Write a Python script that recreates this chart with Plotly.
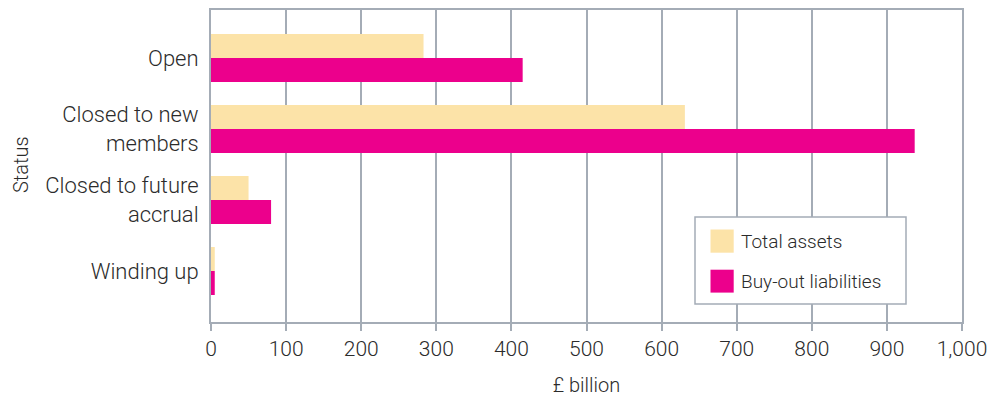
import plotly.graph_objects as go

# Pension schemes by status, £ billion
statuses = ["Open", "Closed to new<br>members", "Closed to future<br>accrual", "Winding up"]
total_assets = [283, 631, 50, 5]
buyout_liabilities = [415, 937, 80, 5]
series_names = ["Total assets", "Buy-out liabilities"]
x_ticks = [0, 100, 200, 300, 400, 500, 600, 700, 800, 900, 1000]
x_tick_labels = ["0", "100", "200", "300", "400", "500", "600", "700", "800", "900", "1,000"]

ASSET_COLOR = "#FCE3A8"
LIAB_COLOR = "#EC008C"
GRID = "#A4ACB6"
TEXT = "#2B2B2B"
FONT = "Roboto, sans-serif"
W = 300


def px_x(px):
    return (px - 211) / 751


def px_y(py):
    return (322 - py) / 312


fig = go.Figure()
fig.add_trace(go.Bar(y=statuses, x=total_assets, orientation="h", name=series_names[0],
                     marker=dict(color=ASSET_COLOR, line=dict(width=0)), showlegend=False))
fig.add_trace(go.Bar(y=statuses, x=buyout_liabilities, orientation="h", name=series_names[1],
                     marker=dict(color=LIAB_COLOR, line=dict(width=0)), showlegend=False))

# Boxed legend with large square swatches
shapes = [dict(type="rect", xref="paper", yref="paper", x0=px_x(695), x1=px_x(906),
               y0=px_y(304), y1=px_y(217),
               fillcolor="white", line=dict(color=GRID, width=1.5), layer="above")]
annotations = []
swatch_rows = [(229.5, 252.7, 241), (269.7, 292.6, 281)]
for (top, bot, mid), name, col in zip(swatch_rows, series_names, [ASSET_COLOR, LIAB_COLOR]):
    shapes.append(dict(type="rect", xref="paper", yref="paper", x0=px_x(710.5), x1=px_x(733.7),
                       y0=px_y(bot), y1=px_y(top), fillcolor=col, line=dict(width=0), layer="above"))
    annotations.append(dict(text=name, xref="paper", yref="paper", x=px_x(739), y=px_y(mid),
                            xanchor="left", yanchor="middle", showarrow=False,
                            font=dict(family=FONT, size=19, color=TEXT, weight=W)))

# Vertical axis title
annotations.append(dict(text="Status", xref="paper", yref="paper", x=px_x(21), y=px_y(165),
                        xanchor="center", yanchor="middle", textangle=-90, showarrow=False,
                        font=dict(family=FONT, size=20, color=TEXT, weight=W)))

fig.update_layout(
    width=994, height=400,
    margin=dict(l=211, r=32, t=10, b=78),
    plot_bgcolor="white", paper_bgcolor="white",
    barmode="group", bargap=0.324, bargroupgap=0,
    font=dict(family=FONT, size=20, color=TEXT, weight=W),
    shapes=shapes, annotations=annotations,
    xaxis=dict(range=[0, 1000], tickvals=x_ticks, ticktext=x_tick_labels, automargin=False,
               showgrid=True, gridcolor=GRID, gridwidth=1.5,
               showline=True, linecolor=GRID, linewidth=2, mirror=True,
               ticks="outside", ticklen=7, tickcolor=GRID, tickwidth=1.5,
               tickfont=dict(family=FONT, size=21, color=TEXT, weight=W), zeroline=False,
               title=dict(text="£ billion", font=dict(family=FONT, size=20, color=TEXT, weight=W),
                          standoff=18)),
    yaxis=dict(range=[3.718, -0.676], showgrid=False, automargin=False,
               showline=True, linecolor=GRID, linewidth=2, mirror=True,
               ticks="", tickfont=dict(family=FONT, size=22, color=TEXT, weight=W),
               ticklabelstandoff=6),
)

fig.write_html("out.html")
